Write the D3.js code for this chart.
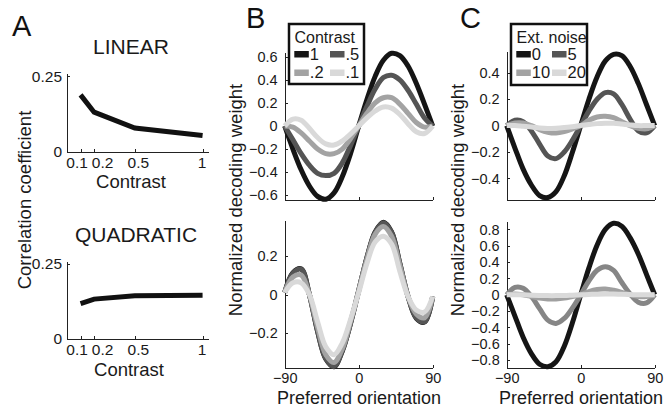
<!DOCTYPE html>
<html>
<head>
<meta charset="utf-8">
<script src="https://cdn.jsdelivr.net/npm/d3@7"></script>
<style>
  body { margin: 0; background: #fff; }
  svg { display: block; font-family: "Liberation Sans", Arial, Helvetica, sans-serif; }
  .axis path, .axis line { stroke: #222; stroke-width: 1; shape-rendering: crispEdges; }
  .axis text { fill: #1a1a1a; }
</style>
</head>
<body>
<svg id="fig"></svg>
<script>
// Panel A data (correlation coefficient vs contrast)
var contrastX = [0.1, 0.2, 0.5, 1];
var contrastTicks = ["0.1", "0.2", "0.5", "1"];
var linearCorr = [0.188, 0.131, 0.079, 0.054];
var quadCorr = [0.118, 0.133, 0.144, 0.146];

// Preferred orientation samples (deg)
var orient = [-90, -80, -70, -60, -50, -40, -30, -20, -10, 0, 10, 20, 30, 40, 50, 60, 70, 80, 90];

// Panel B, top (linear): contrast 1, .5, .2, .1
var bTop1  = [0, -0.20, -0.38, -0.52, -0.61, -0.635, -0.58, -0.44, -0.24, 0, 0.23, 0.43, 0.57, 0.63, 0.61, 0.52, 0.37, 0.19, 0];
var bTop05 = [0, -0.12, -0.24, -0.34, -0.41, -0.43, -0.41, -0.32, -0.17, 0, 0.17, 0.32, 0.42, 0.44, 0.40, 0.31, 0.19, 0.07, 0];
var bTop02 = [0, -0.01, -0.06, -0.13, -0.20, -0.24, -0.24, -0.20, -0.11, 0, 0.11, 0.20, 0.245, 0.245, 0.19, 0.11, 0.03, -0.01, 0];
var bTop01 = [0, 0.06, 0.05, -0.02, -0.10, -0.155, -0.165, -0.13, -0.07, 0, 0.07, 0.13, 0.165, 0.155, 0.10, 0.02, -0.05, -0.065, 0];

// Panel B, bottom (quadratic)
var bBot1  = [0.01, 0.112, 0.132, 0.0, -0.19, -0.332, -0.372, -0.292, -0.15, 0.02, 0.19, 0.322, 0.372, 0.322, 0.16, -0.01, -0.122, -0.142, -0.01];
var bBot05 = [0.01, 0.11, 0.13, 0.0, -0.19, -0.33, -0.37, -0.29, -0.15, 0.02, 0.19, 0.32, 0.37, 0.32, 0.16, -0.01, -0.12, -0.14, -0.01];
var bBot02 = [0.01, 0.09, 0.10, 0.0, -0.17, -0.31, -0.35, -0.28, -0.14, 0.02, 0.18, 0.31, 0.35, 0.30, 0.15, -0.01, -0.10, -0.12, -0.01];
var bBot01 = [0.01, 0.06, 0.06, 0.0, -0.14, -0.27, -0.31, -0.25, -0.13, 0.01, 0.16, 0.27, 0.30, 0.26, 0.12, -0.01, -0.08, -0.09, -0.01];

// Panel C, top (linear): ext. noise 0, 5, 10, 20
var cTop0  = [0, -0.17, -0.33, -0.45, -0.53, -0.545, -0.50, -0.38, -0.20, 0, 0.20, 0.37, 0.49, 0.54, 0.53, 0.45, 0.32, 0.16, 0];
var cTop5  = [0, 0.04, 0.03, -0.04, -0.14, -0.23, -0.25, -0.20, -0.11, 0, 0.11, 0.20, 0.25, 0.24, 0.16, 0.05, -0.04, -0.055, 0];
var cTop10 = [0, 0.02, 0.02, 0.0, -0.03, -0.05, -0.056, -0.045, -0.025, 0, 0.04, 0.065, 0.07, 0.06, 0.03, 0.0, -0.02, -0.025, 0];
var cTop20 = [0, 0.0, -0.005, -0.01, -0.018, -0.022, -0.02, -0.015, -0.008, 0, 0.008, 0.015, 0.018, 0.018, 0.012, 0.005, 0.0, 0.0, 0];

// Panel C, bottom (quadratic)
var cBot0  = [0, -0.26, -0.52, -0.72, -0.85, -0.88, -0.82, -0.63, -0.34, 0, 0.33, 0.61, 0.80, 0.875, 0.84, 0.70, 0.50, 0.25, 0];
var cBot5  = [0, 0.09, 0.08, -0.02, -0.17, -0.31, -0.35, -0.29, -0.16, 0, 0.17, 0.30, 0.345, 0.30, 0.15, 0.01, -0.09, -0.10, 0];
var cBot10 = [0, 0.01, 0.0, -0.02, -0.04, -0.05, -0.05, -0.04, -0.02, 0, 0.04, 0.065, 0.07, 0.055, 0.03, 0.0, -0.02, -0.02, 0];
var cBot20 = [0, 0.0, 0.0, -0.005, -0.008, -0.01, -0.01, -0.008, -0.004, 0, 0.004, 0.008, 0.01, 0.01, 0.006, 0.003, 0.0, 0.0, 0];

var contrastLabels = ["1", ".5", ".2", ".1"];
var noiseLabels = ["0", "5", "10", "20"];
var greys = ["#151515", "#555555", "#a3a3a3", "#d9d9d9"];
var greysCBot = ["#151515", "#868686", "#a0a0a0", "#dadada"];

var svg = d3.select("#fig").attr("width", 666).attr("height", 408);

// ---------- Panel A ----------
function drawA(vals, yTop, yBot, title, titleY, titleX, xlabY, xlabX) {
    var x = d3.scaleLinear().domain([0, 1.04]).range([67, 208]);
    var y = d3.scaleLinear().domain([0, 0.26]).range([yBot, yTop]);

    var ax = svg.append("g").attr("class", "axis")
        .attr("transform", `translate(67,0)`)
        .call(d3.axisLeft(y).tickValues([0, 0.25]).tickFormat(d => d === 0 ? "0" : "0.25")
            .tickSizeInner(-3).tickSizeOuter(0).tickPadding(5));
    ax.selectAll("text").style("font-size", "15.5px");

    var bx = svg.append("g").attr("class", "axis")
        .attr("transform", `translate(0,${yBot})`)
        .call(d3.axisBottom(x).tickValues(contrastX).tickFormat((d, i) => contrastTicks[i])
            .tickSizeInner(-3).tickSizeOuter(0).tickPadding(5));
    var nudge = [-4, 8, 3, -1];
    bx.selectAll("text").style("font-size", "15.5px").attr("dx", (d, i) => nudge[i]);

    svg.append("path")
        .datum(vals)
        .attr("fill", "none")
        .attr("stroke", "#111")
        .attr("stroke-width", 5)
        .attr("d", d3.line().x((d, i) => x(contrastX[i])).y(d => y(d)));

    svg.append("text").attr("x", titleX).attr("y", titleY).attr("text-anchor", "middle")
        .style("font-size", "21px").style("fill", "#1a1a1a").text(title);
    svg.append("text").attr("x", xlabX).attr("y", xlabY).attr("text-anchor", "middle")
        .style("font-size", "18.5px").style("fill", "#1a1a1a").text("Contrast");
}

drawA(linearCorr, 73, 152, "LINEAR", 54, 131, 188, 131);
drawA(quadCorr, 261, 339, "QUADRATIC", 242, 136, 376, 129);

svg.append("text").attr("transform", "translate(30.5,200) rotate(-90)").attr("text-anchor", "middle")
    .style("font-size", "18.5px").style("fill", "#1a1a1a").text("Correlation coefficient");

// ---------- Panels B and C ----------
function drawCurves(x0, x1, yTop, yBot, dom, ticks, series, cols, xLabels) {
    var x = d3.scaleLinear().domain([-90, 90]).range([x0, x1]);
    var y = d3.scaleLinear().domain([-dom, dom]).range([yBot, yTop]);

    var ax = svg.append("g").attr("class", "axis")
        .attr("transform", `translate(${x0},0)`)
        .call(d3.axisLeft(y).tickValues(ticks).tickFormat(d => d === 0 ? "0" : d3.format(".1f")(d))
            .tickSizeInner(-3).tickSizeOuter(0).tickPadding(7));
    ax.selectAll("text").style("font-size", "14.5px");

    var bx = svg.append("g").attr("class", "axis")
        .attr("transform", `translate(0,${yBot})`)
        .call(d3.axisBottom(x).tickValues([-90, 0, 90]).tickFormat(d => d3.format("d")(d))
            .tickSizeInner(-3).tickSizeOuter(0).tickPadding(4.5));
    bx.selectAll("text").style("font-size", "14.5px");
    if (!xLabels) bx.selectAll("text").remove();

    var line = d3.line().x((d, i) => x(orient[i])).y(d => y(d)).curve(d3.curveCatmullRom.alpha(0.5));
    series.forEach(function(s, k) {
        svg.append("path")
            .datum(s)
            .attr("fill", "none")
            .attr("stroke", cols[k])
            .attr("stroke-width", 5)
            .attr("stroke-linejoin", "round")
            .attr("d", line);
    });
}

drawCurves(284.7, 432.7, 52.5, 199.5, 0.637, [-0.6, -0.4, -0.2, 0, 0.2, 0.4, 0.6],
    [bTop1, bTop05, bTop02, bTop01], greys, false);
drawCurves(284.7, 432.7, 220.7, 368.3, 0.38, [-0.2, 0, 0.2],
    [bBot1, bBot05, bBot02, bBot01], greys, true);
drawCurves(506.7, 654.7, 51.7, 199.5, 0.56, [-0.4, -0.2, 0, 0.2, 0.4],
    [cTop0, cTop5, cTop10, cTop20], greys, false);
drawCurves(506.7, 654.7, 221.3, 368.3, 0.9, [-0.8, -0.6, -0.4, -0.2, 0, 0.2, 0.4, 0.6, 0.8],
    [cBot0, cBot5, cBot10, cBot20], greysCBot, true);

// y labels and x labels
[242, 464].forEach(function(xx) {
    svg.append("text").attr("transform", `translate(${xx},200) rotate(-90)`).attr("text-anchor", "middle")
        .style("font-size", "18.5px").style("fill", "#1a1a1a").text("Normalized decoding weight");
});
[359, 581].forEach(function(xx) {
    svg.append("text").attr("x", xx).attr("y", 404).attr("text-anchor", "middle")
        .style("font-size", "18px").style("fill", "#1a1a1a").text("Preferred orientation");
});

// legends
function legend(bx, by, bw, bh, title, labels) {
    var g = svg.append("g");
    g.append("rect").attr("x", bx).attr("y", by).attr("width", bw).attr("height", bh)
        .attr("fill", "#fff").attr("stroke", "#111").attr("stroke-width", 2.5);
    g.append("text").attr("x", bx + 5.5).attr("y", by + 18.5).style("font-size", "16px")
        .style("fill", "#1a1a1a").text(title);
    var colX = [bx + 5.3, bx + 41];
    var rowY = [by + 27, by + 45.5];
    labels.forEach(function(l, i) {
        var cx = colX[i % 2], cy = rowY[Math.floor(i / 2)];
        g.append("rect").attr("x", cx).attr("y", cy).attr("width", 14.5).attr("height", 6.5)
            .attr("fill", greys[i]);
        g.append("text").attr("x", cx + 15.5).attr("y", cy + 8.5).style("font-size", "16.5px")
            .style("fill", "#1a1a1a").text(l);
    });
}
legend(289, 24, 75, 60, "Contrast", contrastLabels);
legend(511, 24, 76, 61, "Ext. noise", noiseLabels);

// panel letters
[["A", 12, 36], ["B", 246, 28], ["C", 460, 28]].forEach(function(p) {
    svg.append("text").attr("x", p[1]).attr("y", p[2]).style("font-size", "29px")
        .style("fill", "#111").text(p[0]);
});
</script>
</body>
</html>
